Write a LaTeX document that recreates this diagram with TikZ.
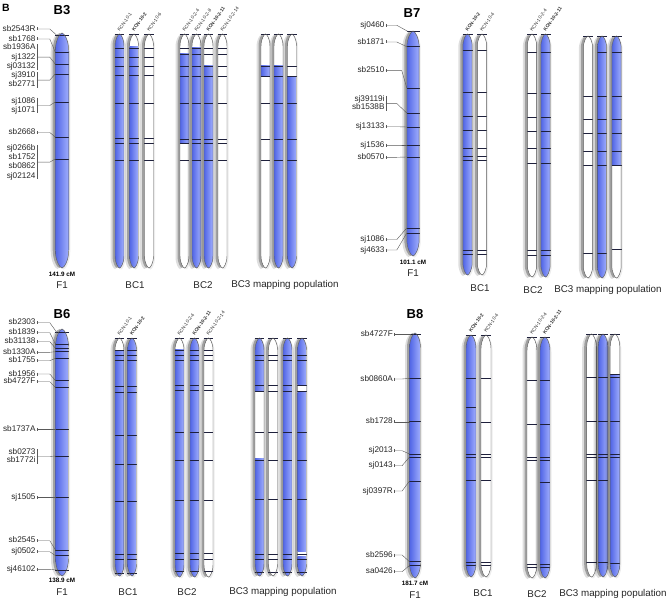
\documentclass[tikz,border=0pt]{standalone}
\usepackage{fontspec}
\setmainfont{Liberation Sans}
\usetikzlibrary{calc}
\definecolor{cbA}{RGB}{58,78,208}
\definecolor{cbB}{RGB}{88,108,232}
\definecolor{cbC}{RGB}{150,165,250}
\definecolor{cbD}{RGB}{100,120,236}
\definecolor{mk}{RGB}{30,32,60}
\pgfdeclarehorizontalshading{chromshade}{100bp}{color(0bp)=(cbA); color(30bp)=(cbB); color(68bp)=(cbC); color(100bp)=(cbD)}
\tikzset{
 mlab/.style={anchor=east, inner sep=0.3pt, font=\fontsize{8.2}{9}\selectfont, text height=5.8pt, text depth=1.6pt, text=black!85},
 conn/.style={draw=black!65, line width=0.4pt},
 mline/.style={draw=mk, line width=0.55pt},
 outl/.style={draw=black!65, line width=0.45pt},
 kcn/.style={anchor=west, rotate=55, inner sep=0pt, font=\fontsize{4.8}{5}\selectfont, text=black!80},
 kcnb/.style={kcn, font=\fontsize{4.8}{5}\selectfont\bfseries},
 glab/.style={font=\fontsize{9.8}{11}\selectfont, inner sep=0pt, text=black!85},
 cmlab/.style={font=\fontsize{6.3}{7}\selectfont\bfseries, inner sep=0pt},
 ttl/.style={font=\fontsize{13}{14}\selectfont\bfseries, inner sep=0pt},
}
% x, top, bottom, half width, blue segments, lines
\newcommand\chromo[6]{%
\begingroup
\pgfmathsetmacro\cx{#1}%
\pgfmathsetmacro\ct{#2}%
\pgfmathsetmacro\cb{#3}%
\pgfmathsetmacro\cw{#4}%
\pgfmathsetmacro\chh{2.7*\cw}%
\pgfmathsetmacro\xl{\cx-\cw}%
\pgfmathsetmacro\xr{\cx+\cw}%
\pgfmathsetmacro\ta{\ct+\chh}%
\pgfmathsetmacro\tb{\ct+0.4*\chh}%
\pgfmathsetmacro\ba{\cb-\chh}%
\pgfmathsetmacro\bb{\cb-0.4*\chh}%
\pgfmathsetmacro\xil{\cx-0.3*\cw}%
\pgfmathsetmacro\xir{\cx+0.3*\cw}%
\def\chpath{(\xl,\ta) .. controls (\xl,\tb) and (\xil,\ct) .. (\cx,\ct) .. controls (\xir,\ct) and (\xr,\tb) .. (\xr,\ta) -- (\xr,\ba) .. controls (\xr,\bb) and (\xir,\cb) .. (\cx,\cb) .. controls (\xil,\cb) and (\xl,\bb) .. (\xl,\ba) -- cycle}%
\fill[black,opacity=0.07,xshift=1.5pt,yshift=-1.5pt] \chpath;
\fill[black,opacity=0.13,xshift=-4.5pt,yshift=-1pt] \chpath;
\fill[black,opacity=0.28,xshift=-2.5pt] \chpath;
\fill[white] \chpath;
\begin{scope}
\clip \chpath;
\foreach \sa/\sb in {#5} {\shade[shading=chromshade] (\xl,\sa) rectangle (\xr,\sb);}
\end{scope}
\foreach \ly in {#6} {\draw[mline] (\xl-0.3,\ly) -- (\xr+0.3,\ly);}
\draw[outl] \chpath;
\endgroup}
\newcommand\mklab[3]{\node[mlab] (#1) at (#2) {#3};}
\newcommand\sconn[3]{%
 \draw[conn] ([xshift=0.8pt,yshift=1.5pt]#1.east) -- ([xshift=0.8pt,yshift=-1.5pt]#1.east);
 \draw[conn] ([xshift=0.8pt]#1.east) -- ++(#2,0) -- (#3);}
\newcommand\gconn[4]{%
 \draw[conn] ([xshift=0.8pt,yshift=-0.8pt]#1.north east) -- ([xshift=0.8pt,yshift=0.8pt]#2.south east);
 \path ($(#1.east)!0.5!(#2.east)$) coordinate (#1mid);
 \draw[conn] ([xshift=0.8pt]#1mid) -- ++(#3,0) -- (#4);}
\begin{document}
\begin{tikzpicture}[x=1pt,y=-1pt]
\fill[white] (0,0) rectangle (669,602);
\useasboundingbox (0,0) rectangle (669,602);
\node[ttl,anchor=west,font=\fontsize{10.5}{11}\selectfont\bfseries] (tB) at (2,8) {B};
\node[ttl] (tB3) at (62,10) {B3};
\node[ttl] (tB7) at (412,13) {B7};
\node[ttl] (tB6) at (62,314) {B6};
\node[ttl] (tB8) at (415,314) {B8};
% ================= B3 =================
\chromo{62}{33}{268}{6.8}{0/300}{35,52,64,74,102,137,159}
\mklab{b3a}{36,29}{sb2543R}
\mklab{b3b}{36,39}{sb1768}
\mklab{b3c}{36,47.7}{sb1936A}
\mklab{b3d}{36,57.3}{sj1322}
\mklab{b3e}{36,66.7}{sj03132}
\mklab{b3f}{36,75.7}{sj3910}
\mklab{b3g}{36,84.5}{sb2771}
\mklab{b3h}{36,101}{sj1086}
\mklab{b3i}{36,110}{sj1071}
\mklab{b3j}{36,132.5}{sb2668}
\mklab{b3k}{36,148.3}{sj0266b}
\mklab{b3l}{36,157.5}{sb1752}
\mklab{b3m}{36,166.8}{sb0862}
\mklab{b3n}{36,176}{sj02124}
\coordinate (b3m1) at (56.5,35);
\coordinate (b3m2) at (55.2,52);
\coordinate (b3m3) at (55.2,64);
\coordinate (b3m4) at (55.2,74);
\coordinate (b3m5) at (55.2,102);
\coordinate (b3m6) at (55.2,137);
\coordinate (b3m7) at (55.2,159);
\sconn{b3a}{13}{b3m1}
\sconn{b3b}{13}{b3m2}
\gconn{b3c}{b3e}{13}{b3m3}
\gconn{b3f}{b3g}{13}{b3m4}
\gconn{b3h}{b3i}{13}{b3m5}
\sconn{b3j}{13}{b3m6}
\gconn{b3k}{b3n}{13}{b3m7}
\node[cmlab] (b3cm) at (62,274) {141.9 cM};
\node[glab] (b3f1) at (62,285) {F1};
% BC1
\chromo{119.5}{34}{268}{4.5}{0/300}{34.6,48,57,66,75,103,138,143,160}
\chromo{134}{34}{268}{4.5}{47/300}{34.6,48,57,66,75,103,138,143,160}
\chromo{149}{34}{268}{4.5}{0/0}{34.6,48,57,66,75,103,138,143,160}
% BC2
\chromo{184.5}{34}{268}{4.5}{54/143}{34.6,48,54,66,76,103,139,143,160}
\chromo{196.5}{34}{268}{4.5}{48/300}{34.6,48,54,66,76,103,139,143,160}
\chromo{208.5}{34}{268}{4.5}{66/300}{34.6,48,54,66,76,103,139,143,160}
\chromo{222.5}{34}{268}{4.5}{0/0}{34.6,48,54,66,76,103,139,143,160}
% BC3
\chromo{265.5}{34}{268}{4.5}{66/76}{34.6,66,76,103,139,160}
\chromo{278.5}{34}{268}{4.5}{66/300}{34.6,66,76,103,139,160}
\chromo{292}{34}{268}{4.5}{76/300}{34.6,66,76,103,139,160}
\node[kcn] (k31) at (118.5,31) {KCN-10-1};
\node[kcnb] (k32) at (133,31) {KCN-10-2};
\node[kcn] (k33) at (148,31) {KCN-10-6};
\node[kcn] (k34) at (183.5,31) {KCN-10-2-4};
\node[kcn] (k35) at (195.5,31) {KCN-10-2-8};
\node[kcnb] (k36) at (207.5,31) {KCN-10-2-11};
\node[kcn] (k37) at (221.5,31) {KCN-10-2-14};
\node[glab] (b3bc1) at (135,285) {BC1};
\node[glab] (b3bc2) at (203,285) {BC2};
\node[glab] (b3bc3) at (285,285) {BC3 mapping population};
% ================= B7 =================
\chromo{413}{31}{256}{6.2}{0/300}{31.5,46.7,88,113,127,145,157,228,233}
\mklab{b7a}{385,25.3}{sj0460}
\mklab{b7b}{385,42}{sb1871}
\mklab{b7c}{385,70.7}{sb2510}
\mklab{b7d}{385,99.3}{sj39119i}
\mklab{b7e}{385,107.8}{sb1538B}
\mklab{b7f}{385,126.7}{sj13133}
\mklab{b7g}{385,145}{sj1536}
\mklab{b7h}{385,157.3}{sb0570}
\mklab{b7i}{385,239.5}{sj1086}
\mklab{b7j}{385,250}{sj4633}
\coordinate (b7m1) at (408,31.5);
\coordinate (b7m2) at (406.8,46.7);
\coordinate (b7m3) at (406.8,88);
\coordinate (b7m4) at (406.8,113);
\coordinate (b7m5) at (406.8,127);
\coordinate (b7m6) at (406.8,145);
\coordinate (b7m7) at (406.8,157);
\coordinate (b7m8) at (406.8,228);
\coordinate (b7m9) at (406.8,233);
\sconn{b7a}{11}{b7m1}
\sconn{b7b}{11}{b7m2}
\sconn{b7c}{16}{b7m3}
\gconn{b7d}{b7e}{11}{b7m4}
\sconn{b7f}{11}{b7m5}
\sconn{b7g}{11}{b7m6}
\sconn{b7h}{11}{b7m7}
\sconn{b7i}{11}{b7m8}
\sconn{b7j}{11}{b7m9}
\node[cmlab] (b7cm) at (413,262) {101.1 cM};
\node[glab] (b7f1) at (413,273) {F1};
\chromo{467.5}{34}{275}{4.7}{0/300}{34.6,50,92,116,130,148,156,160,250,254}
\chromo{482}{34}{275}{4.7}{0/0}{34.6,50,92,116,130,148,156,160,250,254}
\chromo{532}{34}{277}{4.7}{0/0}{34.6,52,93,117,131,148,163,250,255}
\chromo{545.5}{34}{277}{4.7}{0/300}{34.6,52,93,117,131,148,163,250,255}
\chromo{588}{36}{278}{4.7}{0/0}{36.6,96,119,133,151,165,253}
\chromo{602}{36}{278}{4.7}{0/300}{36.6,52,96,119,133,151,165,253}
\chromo{616.5}{36}{278}{4.7}{0/165}{36.6,52,96,119,133,151,165,249}
\node[kcnb] (k71) at (466.5,31) {KCN-10-2};
\node[kcn] (k72) at (481,31) {KCN-10-4};
\node[kcn] (k73) at (531,31) {KCN-10-2-4};
\node[kcnb] (k74) at (544.5,31) {KCN-10-2-11};
\node[glab] (b7bc1) at (480,288) {BC1};
\node[glab] (b7bc2) at (533,290) {BC2};
\node[glab] (b7bc3) at (608,290) {BC3 mapping population};
% ================= B6 =================
\chromo{62}{329}{576}{6.5}{0/700}{332.7,344.3,348.3,351.7,358.3,380.7,387.3,429.3,456,497.3,550,555.7,570}
\mklab{b6a}{36,322.7}{sb2303}
\mklab{b6b}{36,332.7}{sb1839}
\mklab{b6c}{36,341.7}{sb31138}
\mklab{b6d}{36,352.3}{sb1330A}
\mklab{b6e}{36,360.7}{sb1755}
\mklab{b6f}{36,374}{sb1956}
\mklab{b6g}{36,381.7}{sb4727F}
\mklab{b6h}{36,429.3}{sb1737A}
\mklab{b6i}{36,452.3}{sb0273}
\mklab{b6j}{36,460.7}{sb1772i}
\mklab{b6k}{36,497.3}{sj1505}
\mklab{b6l}{36,540.7}{sb2545}
\mklab{b6m}{36,551.7}{sj0502}
\mklab{b6n}{36,569.3}{sj46102}
\coordinate (b6m1) at (57,332.7);
\coordinate (b6m2) at (55.5,344.3);
\coordinate (b6m3) at (55.5,348.3);
\coordinate (b6m4) at (55.5,351.7);
\coordinate (b6m5) at (55.5,358.3);
\coordinate (b6m6) at (55.5,380.7);
\coordinate (b6m7) at (55.5,387.3);
\coordinate (b6m8) at (55.5,429.3);
\coordinate (b6m9) at (55.5,456);
\coordinate (b6m10) at (55.5,497.3);
\coordinate (b6m11) at (55.5,550);
\coordinate (b6m12) at (55.5,555.7);
\coordinate (b6m13) at (56.5,570);
\sconn{b6a}{13}{b6m1}
\sconn{b6b}{13}{b6m2}
\sconn{b6c}{13}{b6m3}
\sconn{b6d}{13}{b6m4}
\sconn{b6e}{13}{b6m5}
\sconn{b6f}{13}{b6m6}
\sconn{b6g}{13}{b6m7}
\sconn{b6h}{13}{b6m8}
\gconn{b6i}{b6j}{13}{b6m9}
\sconn{b6k}{13}{b6m10}
\sconn{b6l}{13}{b6m11}
\sconn{b6m}{13}{b6m12}
\sconn{b6n}{13}{b6m13}
\node[cmlab] (b6cm) at (62,580) {138.9 cM};
\node[glab] (b6f1) at (62,592) {F1};
\chromo{119.5}{338}{576}{4.5}{350/700}{338.6,350.7,355.7,360.7,386.7,392.3,435,464,501.7,554,559.3,573.3}
\chromo{132}{338}{576}{4.5}{0/700}{338.6,350.7,355.7,360.7,386.7,392.3,435,464,501.7,554,559.3,573.3}
\chromo{179.5}{338}{577}{4.5}{349/700}{338.6,350.7,355.7,360.7,385,390.7,432.3,460.7,500,553.3,559.3,571.7}
\chromo{194.5}{338}{577}{4.5}{0/700}{338.6,350.7,355.7,360.7,385,390.7,432.3,460.7,500,553.3,559.3,571.7}
\chromo{208.5}{338}{577}{4.5}{0/0}{338.6,350.7,355.7,360.7,385,390.7,432.3,460.7,500,553.3,559.3,571.7}
\chromo{259.5}{338}{576}{4.5}{0/391.7,458.3/700}{338.6,355,360.7,385,391.7,432,460,499,554,559,572}
\chromo{273}{338}{576}{4.5}{0/0}{338.6,355,360.7,385,391.7,432,460,499,554,559,572}
\chromo{287.5}{338}{576}{4.5}{0/700}{338.6,355,360.7,385,391.7,432,460,499,554,559,572}
\chromo{302}{338}{576}{4.5}{0/384,392/551.7,556.7/700}{338.6,355,360.7,385,391.7,432,460,499,554,559,572}
\node[kcn] (k61) at (118.5,335) {KCN-10-1};
\node[kcnb] (k62) at (131,335) {KCN-10-2};
\node[kcn] (k63) at (178.5,335) {KCN-10-2-4};
\node[kcnb] (k64) at (193.5,335) {KCN-10-2-11};
\node[kcn] (k65) at (207.5,335) {KCN-10-2-14};
\node[glab] (b6bc1) at (128,592) {BC1};
\node[glab] (b6bc2) at (187,592) {BC2};
\node[glab] (b6bc3) at (283,592) {BC3 mapping population};
% ================= B8 =================
\chromo{415}{333}{578}{5.5}{0/700}{334.3,378.3,421.7,454,457,481,561.7,565}
\mklab{b8a}{393.3,334.3}{sb4727F}
\mklab{b8b}{393.3,379}{sb0860A}
\mklab{b8c}{393.3,421.7}{sb1728}
\mklab{b8d}{393.3,450.7}{sj2013}
\mklab{b8e}{393.3,465.7}{sj0143}
\mklab{b8f}{393.3,491}{sj0397R}
\mklab{b8g}{393.3,555}{sb2596}
\mklab{b8h}{393.3,571.7}{sa0426}
\coordinate (b8m1) at (410.5,334.3);
\coordinate (b8m2) at (409.5,378.3);
\coordinate (b8m3) at (409.5,421.7);
\coordinate (b8m4) at (409.5,454);
\coordinate (b8m5) at (409.5,457);
\coordinate (b8m6) at (409.5,481);
\coordinate (b8m7) at (409.5,561.7);
\coordinate (b8m8) at (410,565);
\sconn{b8a}{8}{b8m1}
\sconn{b8b}{8}{b8m2}
\sconn{b8c}{8}{b8m3}
\sconn{b8d}{8}{b8m4}
\sconn{b8e}{8}{b8m5}
\sconn{b8f}{8}{b8m6}
\sconn{b8g}{8}{b8m7}
\sconn{b8h}{8}{b8m8}
\node[cmlab] (b8cm) at (415,583) {181.7 cM};
\node[glab] (b8f1) at (415,595) {F1};
\chromo{471}{335}{577}{5}{0/700}{335.6,378.3,407.3,422,454,457.7,480.7,562,565.7}
\chromo{486}{335}{577}{5}{0/0}{335.6,378.3,422,454,457.7,480.7,562,565.7}
\chromo{532}{337}{578}{5}{0/0}{337.6,380,424,457,460,564,567}
\chromo{545}{337}{578}{5}{0/700}{337.6,380,424,457,460,482,564,567}
\chromo{591.5}{334}{577}{4.8}{0/0}{334.6,377.7,421.7,454,457,480,562}
\chromo{603}{334}{577}{4.8}{0/700}{334.6,377.7,421.7,454,457,480,562}
\chromo{615}{334}{577}{4.8}{374/700}{334.6,374,377.7,421.7,454,457,563}
\node[kcnb] (k81) at (470,332) {KCN-10-2};
\node[kcn] (k82) at (485,332) {KCN-10-4};
\node[kcn] (k83) at (531,334) {KCN-10-2-4};
\node[kcnb] (k84) at (544,334) {KCN-10-2-11};
\node[glab] (b8bc1) at (483,593) {BC1};
\node[glab] (b8bc2) at (537,594) {BC2};
\node[glab] (b8bc3) at (613,594) {BC3 mapping population};
\end{tikzpicture}
\end{document}
